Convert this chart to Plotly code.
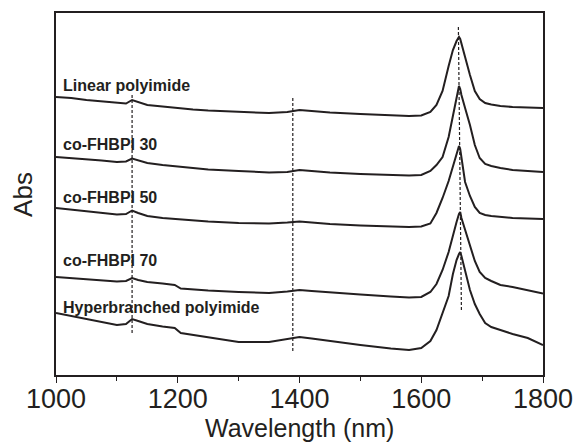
import plotly.graph_objects as go

# Wavelength grid (nm)
wavelength = [1000, 1025, 1050, 1075, 1100, 1115, 1125, 1135, 1150, 1175, 1195, 1205, 1225, 1250,
              1300, 1350, 1380, 1400, 1420, 1450, 1500, 1550, 1580, 1600, 1615, 1625, 1635, 1645,
              1652, 1658, 1662, 1664, 1666, 1672, 1680, 1688, 1696, 1705, 1715, 1730, 1750, 1775, 1800]

# Absorbance (arbitrary units, stacked)
linear_pi = [2.78, 2.77, 2.75, 2.735, 2.72, 2.715, 2.75, 2.73, 2.70, 2.685, 2.67, 2.665, 2.655, 2.645,
             2.63, 2.62, 2.63, 2.65, 2.64, 2.625, 2.61, 2.595, 2.59, 2.595, 2.63, 2.70, 2.84, 3.09,
             3.25, 3.34, 3.38, 3.36, 3.31, 3.18, 3.00, 2.84, 2.76, 2.72, 2.705, 2.69, 2.68, 2.675, 2.67]
co_fhbpi_30 = [2.18, 2.17, 2.155, 2.145, 2.13, 2.135, 2.165, 2.15, 2.12, 2.10, 2.09, 2.08, 2.07, 2.055,
               2.04, 2.025, 2.03, 2.05, 2.04, 2.025, 2.01, 2.00, 1.995, 2.00, 2.04, 2.10, 2.18, 2.38,
               2.59, 2.78, 2.89, 2.86, 2.80, 2.67, 2.50, 2.30, 2.17, 2.11, 2.09, 2.07, 2.05, 2.04, 2.03]
co_fhbpi_50 = [1.67, 1.655, 1.64, 1.625, 1.605, 1.61, 1.645, 1.62, 1.59, 1.57, 1.56, 1.555, 1.545, 1.535,
               1.52, 1.515, 1.525, 1.535, 1.525, 1.51, 1.495, 1.485, 1.48, 1.485, 1.515, 1.62, 1.77, 1.94,
               2.08, 2.22, 2.29, 2.26, 2.17, 1.93, 1.79, 1.68, 1.62, 1.60, 1.59, 1.58, 1.57, 1.565, 1.56]
co_fhbpi_70 = [0.98, 0.97, 0.96, 0.95, 0.935, 0.94, 0.97, 0.95, 0.93, 0.915, 0.90, 0.865, 0.855, 0.845,
               0.83, 0.82, 0.835, 0.85, 0.84, 0.825, 0.805, 0.785, 0.775, 0.78, 0.83, 0.91, 1.05, 1.23,
               1.40, 1.53, 1.61, 1.63, 1.57, 1.45, 1.29, 1.14, 1.03, 0.97, 0.94, 0.90, 0.88, 0.85, 0.815]
hyperbranched_pi = [0.62, 0.59, 0.56, 0.53, 0.50, 0.51, 0.56, 0.54, 0.51, 0.485, 0.47, 0.42, 0.40, 0.375,
                    0.33, 0.33, 0.36, 0.38, 0.365, 0.34, 0.30, 0.265, 0.25, 0.27, 0.34, 0.45, 0.61, 0.79,
                    1.01, 1.15, 1.21, 1.23, 1.19, 1.03, 0.85, 0.71, 0.61, 0.52, 0.48, 0.45, 0.41, 0.37, 0.30]

series = [linear_pi, co_fhbpi_30, co_fhbpi_50, co_fhbpi_70, hyperbranched_pi]
labels = ["Linear polyimide", "co-FHBPI 30", "co-FHBPI 50", "co-FHBPI 70", "Hyperbranched polyimide"]
label_y = [2.90, 2.31, 1.78, 1.15, 0.68]

# Reference (dashed) lines: x start, x end, y start, y end
ref_x0 = [1125, 1389, 1661]
ref_x1 = [1125, 1389, 1666]
ref_y0 = [2.80, 2.77, 3.48]
ref_y1 = [0.40, 0.23, 0.63]

tick_vals = [1000, 1200, 1400, 1600, 1800]

INK = "#231f20"
FONT = "Liberation Sans, Arial, sans-serif"

fig = go.Figure()
for ys, name in zip(series, labels):
    fig.add_trace(go.Scatter(x=wavelength, y=ys, mode="lines", name=name,
                             line=dict(color=INK, width=2), showlegend=False))

for x0, x1, y0, y1 in zip(ref_x0, ref_x1, ref_y0, ref_y1):
    fig.add_trace(go.Scatter(x=[x0, x1], y=[y0, y1], mode="lines",
                             line=dict(color=INK, width=1.2, dash="3px,2px"), showlegend=False))

for name, y in zip(labels, label_y):
    fig.add_annotation(x=1008, y=y, text="<b>" + name + "</b>", showarrow=False,
                       xanchor="left", yanchor="middle",
                       font=dict(family=FONT, size=16, color=INK))

fig.add_annotation(x=0.5, y=-0.146, xref="paper", yref="paper", text="Wavelength (nm)",
                   showarrow=False, xanchor="center", yanchor="middle",
                   font=dict(family=FONT, size=25, color=INK))
fig.add_annotation(x=-0.068, y=0.5, xref="paper", yref="paper", text="Abs", textangle=-90,
                   showarrow=False, xanchor="center", yanchor="middle",
                   font=dict(family=FONT, size=26, color=INK))

fig.update_layout(
    width=576, height=442,
    margin=dict(l=56, r=33, t=13, b=67, autoexpand=False),
    paper_bgcolor="white", plot_bgcolor="white",
    font=dict(family=FONT, color=INK),
)
fig.update_xaxes(range=[1000, 1800], tickvals=tick_vals, ticks="outside", ticklen=6,
                 tickwidth=1.2, tickcolor=INK, showline=True, linecolor=INK, linewidth=1.5,
                 mirror=True, showgrid=False, zeroline=False, automargin=False,
                 ticklabelstandoff=-7,
                 tickfont=dict(family=FONT, size=27, color=INK),
                 minor=dict(dtick=100, tick0=1000, ticks="outside", ticklen=4, tickcolor=INK,
                            tickwidth=1.2, showgrid=False))
fig.update_yaxes(range=[0, 3.62], showticklabels=False, ticks="", showline=True, linecolor=INK,
                 linewidth=1.5, mirror=True, showgrid=False, zeroline=False, automargin=False)

fig.write_html("out.html")
